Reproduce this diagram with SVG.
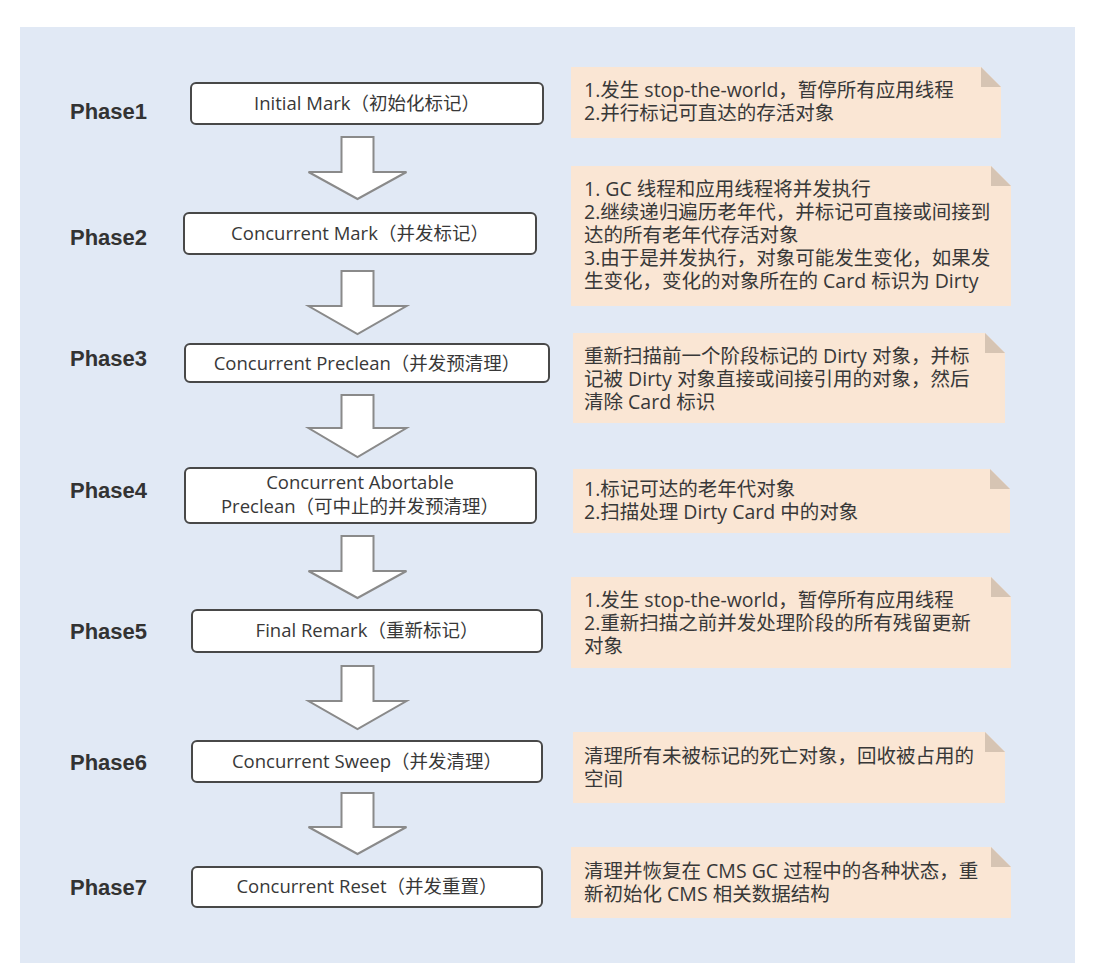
<svg xmlns="http://www.w3.org/2000/svg" width="1095" height="978" viewBox="0 0 1095 978">
<style>
.bg{fill:#e1e9f5}
.phase{font-family:"Liberation Sans","Noto Sans CJK SC",sans-serif;font-size:22px;font-weight:bold;fill:#333}
.box{fill:#fff;stroke:#484848;stroke-width:2}
.nt{font-family:"Open Sans","Noto Sans CJK SC",sans-serif;font-size:18.5px;fill:#383838;text-anchor:middle}
.note{fill:#fae6d4}
.fold{fill:#d6c4b3}
.tx{font-family:"Open Sans","Noto Sans CJK SC",sans-serif;font-size:19.5px;fill:#383838}
.arr{fill:#fff;stroke:#8a8a8a;stroke-width:2;stroke-linejoin:miter}
</style>
<rect class="bg" x="20" y="27" width="1055" height="936"/>

<g id="phase-labels">
<text class="phase" x="70" y="119">Phase1</text>
<text class="phase" x="70" y="245">Phase2</text>
<text class="phase" x="70" y="366">Phase3</text>
<text class="phase" x="70" y="498">Phase4</text>
<text class="phase" x="70" y="639">Phase5</text>
<text class="phase" x="70" y="770">Phase6</text>
<text class="phase" x="70" y="895">Phase7</text>
</g>

<g id="connectors">
<polygon class="arr" points="341.5,137 373.5,137 373.5,172 406.5,172 357.5,199 308.5,172 341.5,172"/>
<polygon class="arr" points="341.5,271 373.5,271 373.5,306 406.5,306 357.5,334 308.5,306 341.5,306"/>
<polygon class="arr" points="341.5,395 373.5,395 373.5,428 406.5,428 357.5,457 308.5,428 341.5,428"/>
<polygon class="arr" points="341.5,536 373.5,536 373.5,571 406.5,571 357.5,598 308.5,571 341.5,571"/>
<polygon class="arr" points="341.5,666 373.5,666 373.5,701 406.5,701 357.5,729 308.5,701 341.5,701"/>
<polygon class="arr" points="341.5,793 373.5,793 373.5,827 406.5,827 357.5,854 308.5,827 341.5,827"/>
</g>

<g id="node1">
<rect class="box" x="191" y="83" width="352" height="41" rx="5"/>
<text class="nt" x="367" y="110">Initial Mark（初始化标记）</text>
</g>
<g id="node2">
<rect class="box" x="184" y="213" width="352" height="41" rx="5"/>
<text class="nt" x="360" y="240">Concurrent Mark（并发标记）</text>
</g>
<g id="node3">
<rect class="box" x="185" y="344" width="364" height="38" rx="5"/>
<text class="nt" x="367" y="370">Concurrent Preclean（并发预清理）</text>
</g>
<g id="node4">
<rect class="box" x="185" y="468" width="351" height="55" rx="5"/>
<text class="nt" x="360" y="489">Concurrent Abortable<tspan x="360" dy="24">Preclean（可中止的并发预清理）</tspan></text>
</g>
<g id="node5">
<rect class="box" x="192" y="610" width="350" height="42" rx="5"/>
<text class="nt" x="367" y="637">Final Remark（重新标记）</text>
</g>
<g id="node6">
<rect class="box" x="192" y="741" width="350" height="41" rx="5"/>
<text class="nt" x="367" y="768">Concurrent Sweep（并发清理）</text>
</g>
<g id="node7">
<rect class="box" x="192" y="867" width="350" height="40" rx="5"/>
<text class="nt" x="367" y="893">Concurrent Reset（并发重置）</text>
</g>

<g id="note1">
<polygon class="note" points="571,67 981,67 1001,87 1001,138 571,138"/>
<polygon class="fold" points="981,67 1001,87 981,87"/>
<text class="tx" x="584" y="97">1.发生 stop-the-world，暂停所有应用线程<tspan x="584" dy="23">2.并行标记可直达的存活对象</tspan></text>
</g>
<g id="note2">
<polygon class="note" points="571,166 991,166 1011,186 1011,306 571,306"/>
<polygon class="fold" points="991,166 1011,186 991,186"/>
<text class="tx" x="584" y="196">1. GC 线程和应用线程将并发执行<tspan x="584" dy="23">2.继续递归遍历老年代，并标记可直接或间接到</tspan><tspan x="584" dy="23">达的所有老年代存活对象</tspan><tspan x="584" dy="23">3.由于是并发执行，对象可能发生变化，如果发</tspan><tspan x="584" dy="23">生变化，变化的对象所在的 Card 标识为 Dirty</tspan></text>
</g>
<g id="note3">
<polygon class="note" points="573,333 985,333 1005,353 1005,423 573,423"/>
<polygon class="fold" points="985,333 1005,353 985,353"/>
<text class="tx" x="584" y="363">重新扫描前一个阶段标记的 Dirty 对象，并标<tspan x="584" dy="23">记被 Dirty 对象直接或间接引用的对象，然后</tspan><tspan x="584" dy="23">清除 Card 标识</tspan></text>
</g>
<g id="note4">
<polygon class="note" points="573,469 990,469 1010,489 1010,533 573,533"/>
<polygon class="fold" points="990,469 1010,489 990,489"/>
<text class="tx" x="584" y="496">1.标记可达的老年代对象<tspan x="584" dy="23">2.扫描处理 Dirty Card 中的对象</tspan></text>
</g>
<g id="note5">
<polygon class="note" points="571,577 991,577 1011,597 1011,668 571,668"/>
<polygon class="fold" points="991,577 1011,597 991,597"/>
<text class="tx" x="584" y="607">1.发生 stop-the-world，暂停所有应用线程<tspan x="584" dy="23">2.重新扫描之前并发处理阶段的所有残留更新</tspan><tspan x="584" dy="23">对象</tspan></text>
</g>
<g id="note6">
<polygon class="note" points="573,732 985,732 1005,752 1005,803 573,803"/>
<polygon class="fold" points="985,732 1005,752 985,752"/>
<text class="tx" x="584" y="763">清理所有未被标记的死亡对象，回收被占用的<tspan x="584" dy="23">空间</tspan></text>
</g>
<g id="note7">
<polygon class="note" points="571,847 991,847 1011,867 1011,918 571,918"/>
<polygon class="fold" points="991,847 1011,867 991,867"/>
<text class="tx" x="584" y="878">清理并恢复在 CMS GC 过程中的各种状态，重<tspan x="584" dy="23">新初始化 CMS 相关数据结构</tspan></text>
</g>
</svg>
